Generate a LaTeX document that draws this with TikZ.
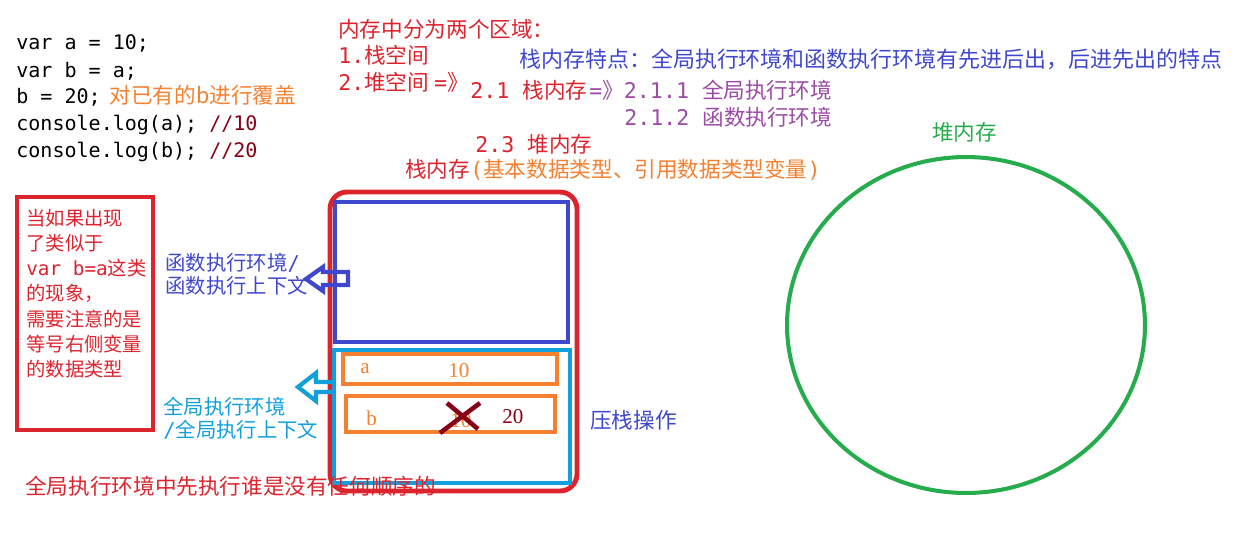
\documentclass[tikz,border=0pt]{standalone}
\usepackage{fontspec}
\setmainfont{Noto Sans CJK SC}
\setmonofont{DejaVu Sans Mono}
\newfontfamily\digitfont{Liberation Serif}
\usepackage{xcolor}
\usetikzlibrary{positioning}
\definecolor{pred}{RGB}{220,36,46}
\definecolor{porange}{RGB}{244,128,48}
\definecolor{pindigo}{RGB}{63,72,204}
\definecolor{pturq}{RGB}{18,160,220}
\definecolor{pgreen}{RGB}{38,172,76}
\definecolor{ppurple}{RGB}{155,75,165}
\definecolor{pdark}{RGB}{136,0,21}
\newcommand{\asc}[1]{{\ttfamily #1}}

\begin{document}
\begin{tikzpicture}[x=0.02cm,y=-0.02cm,
	txt/.style={anchor=base west,inner sep=0pt,font=\fontsize{12.3}{14}\selectfont},
	ctxtxt/.style={anchor=base west,inner sep=0pt,font=\fontsize{11.6}{14}\selectfont},
	codetxt/.style={anchor=base west,inner sep=0pt,font=\ttfamily\fontsize{11.4}{14}\selectfont},
	notetxt/.style={anchor=base west,inner sep=0pt,text=pred,font=\fontsize{11}{13}\selectfont},
	valtxt/.style={anchor=base west,inner sep=0pt,font=\digitfont\fontsize{12}{14}\selectfont},
	frame/.style={line width=2.8pt},
	blockarrow/.style={line width=2.4pt,line join=miter}]
	\useasboundingbox (0,0) rectangle (1252,532);
	% code
	\node[codetxt] (code1) at (16,49) {var a = 10;};
	\node[codetxt] (code2) at (16,77) {var b = a;};
	\node[codetxt] (code3) at (16,103) {b = 20;\textcolor{porange}{\rmfamily\fontsize{12.3}{14}\selectfont\hspace{0.18cm}对已有的b进行覆盖}};
	\node[codetxt] (code4) at (16,130) {console.log(a); \textcolor{pdark}{//10}};
	\node[codetxt] (code5) at (16,157) {console.log(b); \textcolor{pdark}{//20}};
	% top notes
	\node[txt,text=pred] (areas) at (338,37) {内存中分为两个区域：};
	\node[txt,text=pred] (stack) at (338,63) {\asc{1.}栈空间};
	\node[txt,text=pred] (heap) at (338,90) {\asc{2.}堆空间 \asc{=}》};
	\node[txt,text=pred] (sub1) at (470,98) {\asc{2.1 }栈内存};
	\node[txt,text=ppurple] (glob) at (589,98) {\asc{=}》\asc{2.1.1 }全局执行环境};
	\node[txt,text=ppurple] (func) at (624,125) {\asc{2.1.2 }函数执行环境};
	\node[txt,text=pred] (sub3) at (475,152) {\asc{2.3 }堆内存};
	\node[txt,text=pred] (stk) at (405,177) {栈内存};
	\node[txt,text=porange] (types) at (470,177) {\asc{(}基本数据类型、引用数据类型变量\asc{)}};
	\node[txt,text=pindigo,font=\fontsize{12.5}{14}\selectfont] (feat) at (519,67) {栈内存特点：全局执行环境和函数执行环境有先进后出，后进先出的特点};
	% left note
	\draw[frame,pred] (17,197) rectangle (153,430);
	\foreach \t [count=\i] in {当如果出现,了类似于,{\asc{var b=a}这类},的现象，,需要注意的是,等号右侧变量,的数据类型}
		\node[notetxt] (note\i) at (26,{225+25.3*(\i-1)}) {\t};
	% stack
	\draw[frame,pred,rounded corners=0.34cm] (330,192) rectangle (577,491);
	\draw[frame,pindigo] (335,202) rectangle (568,342);
	\draw[line width=2.4pt,pturq] (334,350) rectangle (570,483);
	\draw[frame,porange] (343,354) rectangle (557,384);
	\draw[frame,porange] (346,396) rectangle (555,432);
	\node[valtxt,text=porange] (varA) at (360,373) {a};
	\node[valtxt,text=porange] (valA) at (448,377) {10};
	\node[valtxt,text=porange] (varB) at (366,425) {b};
	\node[valtxt,text=porange] (oldB) at (450,427) {10};
	\node[valtxt,text=pdark] (valB) at (502,423) {20};
	\draw[pdark,line width=2.6pt] (440,433) -- (480,403) (447,403) -- (478,429);
	% arrows
	\draw[blockarrow,pindigo] (348,272) -- (323,272) -- (323,267) -- (306,279) -- (323,291) -- (323,285) -- (348,285) -- cycle;
	\draw[blockarrow,pturq] (334,382) -- (316,382) -- (316,373) -- (298,387) -- (316,401) -- (316,392) -- (334,392);
	\node[ctxtxt,text=pindigo] (fctx1) at (165,270) {函数执行环境\asc{/}};
	\node[ctxtxt,text=pindigo] (fctx2) at (165,293) {函数执行上下文};
	\node[ctxtxt,text=pturq] (gctx1) at (163,414) {全局执行环境};
	\node[ctxtxt,text=pturq] (gctx2) at (163,437) {\asc{/}全局执行上下文};
	\node[txt,text=pindigo] (push) at (590,428) {压栈操作};
	\node[txt,text=pred] (order) at (25,494) {全局执行环境中先执行谁是没有任何顺序的};
	% heap
	\draw[pgreen,line width=2.3pt] (966,325) ellipse [x radius=3.58cm,y radius=3.36cm];
	\node[txt,text=pgreen] (heaplbl) at (932,140) {堆内存};
\end{tikzpicture}
\end{document}
